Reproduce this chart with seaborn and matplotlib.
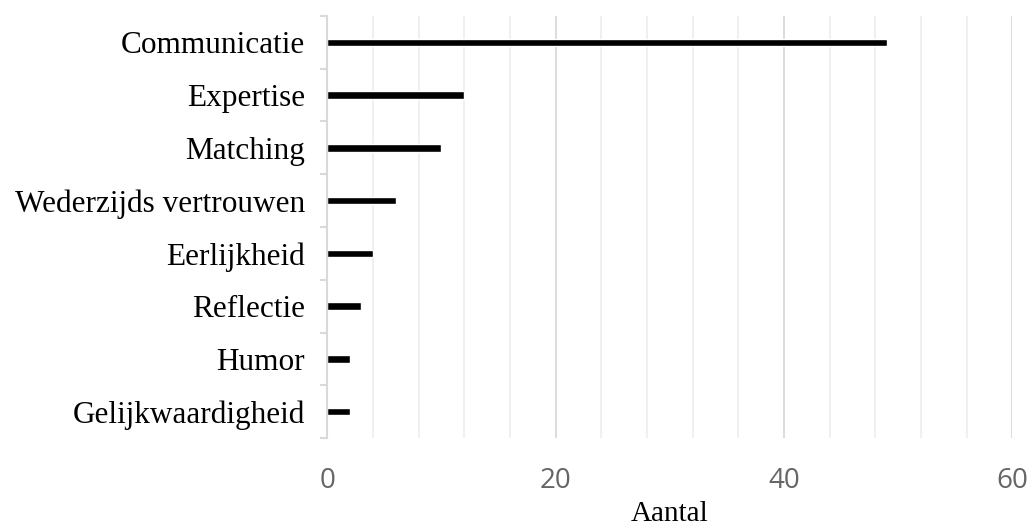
import matplotlib
matplotlib.use("Agg")
import matplotlib.pyplot as plt
import seaborn as sns
import numpy as np
import pandas as pd
from matplotlib.ticker import MultipleLocator, FixedLocator

categories = ["Communicatie", "Expertise", "Matching", "Wederzijds vertrouwen",
              "Eerlijkheid", "Reflectie", "Humor", "Gelijkwaardigheid"]
counts = [49, 12, 10, 6, 4, 3, 2, 2]
x_ticks = [0, 20, 40, 60]
x_label = "Aantal"

sns.set_theme(style="white")
plt.rcParams["font.family"] = ["Liberation Serif", "DejaVu Serif"]

df = pd.DataFrame({"categorie": categories, "aantal": counts})

fig = plt.figure(figsize=(10.32, 5.31), dpi=100)
ax = fig.add_axes([0.317, 0.175, 0.664, 0.795])

sns.barplot(data=df, x="aantal", y="categorie", orient="h", color="black",
            width=0.14, saturation=1, ax=ax, zorder=3)

ax.set_xlim(0, 60)
ax.set_ylim(len(categories) - 0.5, -0.5)
ax.xaxis.set_major_locator(FixedLocator(x_ticks))
ax.xaxis.set_minor_locator(MultipleLocator(4))
ax.grid(axis="x", which="major", color="#d9d9d9", linewidth=1.3, zorder=0)
ax.grid(axis="x", which="minor", color="#efefef", linewidth=1.3, zorder=0)
ax.grid(axis="y", visible=False)

for side in ["top", "right", "bottom"]:
    ax.spines[side].set_visible(False)
ax.spines["left"].set_color("#d9d9d9")
ax.spines["left"].set_linewidth(1.5)
ax.spines["left"].set_zorder(4)

ax.tick_params(axis="x", which="both", length=0, pad=21, labelsize=20,
               labelcolor="#666666")
for lbl in ax.get_xticklabels():
    lbl.set_fontfamily(["Open Sans", "DejaVu Sans"])
    lbl.set_fontweight("normal")

ax.yaxis.set_minor_locator(FixedLocator(np.arange(-0.5, len(categories), 1.0)))
ax.tick_params(axis="y", which="major", length=0, pad=16, labelsize=22.5,
               labelcolor="black")
ax.tick_params(axis="y", which="minor", length=5, width=1.5, color="#d9d9d9",
               left=True)

ax.set_ylabel("")
ax.set_xlabel(x_label, fontsize=21, color="black", labelpad=4)

fig.savefig("out.png", dpi=100, facecolor="white")
